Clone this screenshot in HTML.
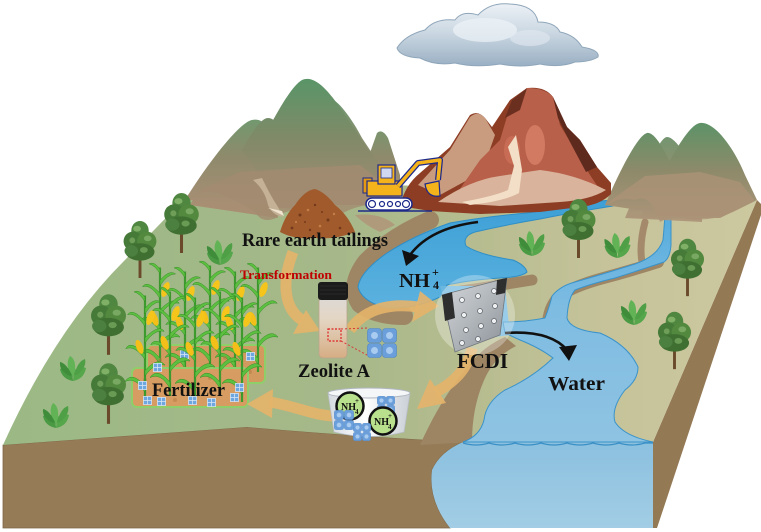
<!DOCTYPE html>
<html><head><meta charset="utf-8"><style>
html,body{margin:0;padding:0;background:#fff;}
svg{display:block;}
text{font-family:"Liberation Serif",serif;font-weight:bold;}
</style></head><body>
<svg width="761" height="532" viewBox="0 0 761 532" xmlns="http://www.w3.org/2000/svg">
<defs>
<linearGradient id="land" gradientUnits="userSpaceOnUse" x1="0" y1="0" x2="760" y2="0">
<stop offset="0" stop-color="#9bb985"/><stop offset="0.45" stop-color="#a6b889"/><stop offset="0.62" stop-color="#b6bc8f"/><stop offset="0.8" stop-color="#c6c39a"/><stop offset="1" stop-color="#ccc89f"/></linearGradient>
<linearGradient id="mtn" gradientUnits="userSpaceOnUse" x1="0" y1="80" x2="0" y2="205">
<stop offset="0" stop-color="#5a9568"/><stop offset="0.45" stop-color="#7f8a68"/><stop offset="1" stop-color="#a58c72"/></linearGradient>
<linearGradient id="mtn2" gradientUnits="userSpaceOnUse" x1="0" y1="110" x2="0" y2="205">
<stop offset="0" stop-color="#6a9c70"/><stop offset="0.5" stop-color="#8f8a6c"/><stop offset="1" stop-color="#a88f74"/></linearGradient>
<linearGradient id="rmtn" gradientUnits="userSpaceOnUse" x1="0" y1="120" x2="0" y2="222">
<stop offset="0" stop-color="#5b9367"/><stop offset="0.5" stop-color="#8d8a6a"/><stop offset="1" stop-color="#ae957a"/></linearGradient>
<linearGradient id="pool" gradientUnits="userSpaceOnUse" x1="0" y1="200" x2="0" y2="310">
<stop offset="0" stop-color="#3d9fd6"/><stop offset="1" stop-color="#5cb2df"/></linearGradient>
<linearGradient id="river" gradientUnits="userSpaceOnUse" x1="0" y1="216" x2="0" y2="442">
<stop offset="0" stop-color="#55acdd"/><stop offset="0.4" stop-color="#7ebce2"/><stop offset="1" stop-color="#8fc3e2"/></linearGradient>
<linearGradient id="wfront" gradientUnits="userSpaceOnUse" x1="0" y1="442" x2="0" y2="528">
<stop offset="0" stop-color="#8bc0df"/><stop offset="1" stop-color="#a2cde5"/></linearGradient>
<linearGradient id="cloud" gradientUnits="userSpaceOnUse" x1="0" y1="2" x2="0" y2="68">
<stop offset="0" stop-color="#eef3f7"/><stop offset="0.5" stop-color="#c8d5e0"/><stop offset="1" stop-color="#97adc1"/></linearGradient>
<linearGradient id="vial" x1="0" y1="0" x2="0" y2="1">
<stop offset="0" stop-color="#dcd9d6"/><stop offset="0.35" stop-color="#e4d6c4"/><stop offset="1" stop-color="#d6ad84"/></linearGradient>
<linearGradient id="fcdi" x1="0" y1="0" x2="1" y2="1">
<stop offset="0" stop-color="#d5d8dc"/><stop offset="0.5" stop-color="#b2b7bc"/><stop offset="1" stop-color="#8a9096"/></linearGradient>
<linearGradient id="bucket" x1="0" y1="0" x2="1" y2="0">
<stop offset="0" stop-color="#d4d9df"/><stop offset="0.45" stop-color="#ffffff"/><stop offset="1" stop-color="#c9cfd6"/></linearGradient>
<symbol id="tree" viewBox="0 0 36 60">
<rect x="16.5" y="28" width="3" height="32" fill="#6b4a2b"/>
<ellipse cx="18" cy="11" rx="9" ry="10" fill="#4f8640"/>
<ellipse cx="11" cy="22" rx="10" ry="10" fill="#457a38"/>
<ellipse cx="25" cy="22" rx="10" ry="10" fill="#52893f"/>
<ellipse cx="18" cy="33" rx="15" ry="9" fill="#3f7032"/>
<ellipse cx="9" cy="32" rx="7" ry="6" fill="#4c8040"/>
<ellipse cx="15" cy="9" rx="4" ry="3" fill="#7fb066"/>
<ellipse cx="26" cy="19" rx="4" ry="3" fill="#78a862"/>
<ellipse cx="10" cy="21" rx="3" ry="3" fill="#6e9e58"/>
<ellipse cx="22" cy="31" rx="4" ry="3" fill="#6a9b55"/>
</symbol>
<symbol id="plant" viewBox="0 0 30 30">
<path d="M15,28 Q4,26 2,16 Q8,12 14,18 Z" fill="#4a9a44"/>
<path d="M15,28 Q26,26 28,15 Q21,12 16,18 Z" fill="#56a64c"/>
<path d="M15,24 Q6,12 12,3 Q18,6 17,18 Z" fill="#62b356"/>
<path d="M16,22 Q20,8 27,6 Q29,14 19,22 Z" fill="#4e9f45"/>
<path d="M14,22 Q8,10 2,9 Q1,18 12,23 Z" fill="#3f8c3b"/>
</symbol>
<symbol id="corn" viewBox="0 0 40 120">
<path d="M20,120 L20,6" stroke="#3c9a2e" stroke-width="2.4" fill="none"/>
<g fill="#5cbf3f" stroke="#2f8a24" stroke-width="0.5">
<path d="M20,105 Q6,88 -2,100 Q10,94 20,112 Z"/>
<path d="M20,88 Q34,72 42,82 Q30,79 20,94 Z"/>
<path d="M20,70 Q4,54 -1,64 Q9,60 20,76 Z"/>
<path d="M20,52 Q35,37 41,45 Q30,43 20,58 Z"/>
<path d="M20,34 Q6,19 1,27 Q10,24 20,40 Z"/>
<path d="M20,20 Q30,8 37,13 Q28,13 20,26 Z"/>
<path d="M20,8 Q14,-1 8,2 Q15,4 20,13 Z"/>
</g>
<ellipse cx="26" cy="30" rx="3.8" ry="8.5" fill="#f6c51c" transform="rotate(20 26 30)"/>
<ellipse cx="14" cy="62" rx="3.6" ry="8" fill="#f3bf18" transform="rotate(-20 14 62)"/>
</symbol>
<symbol id="bsq" viewBox="0 0 10 10">
<rect x="0.5" y="0.5" width="9" height="9" fill="#6ea6e0" stroke="#dbe9f7" stroke-width="0.8"/>
<path d="M5,0.5 V9.5 M0.5,5 H9.5" stroke="#dbe9f7" stroke-width="0.8"/>
</symbol>
<symbol id="zeo" viewBox="0 0 30 30">
<g fill="#6b9fdb" stroke="#4f86c6" stroke-width="0.6">
<rect x="0.5" y="0.5" width="14" height="14" rx="3"/><rect x="15.5" y="0.5" width="14" height="14" rx="3"/>
<rect x="0.5" y="15.5" width="14" height="14" rx="3"/><rect x="15.5" y="15.5" width="14" height="14" rx="3"/>
</g>
<g fill="#a9cbef"><circle cx="7.5" cy="7.5" r="3.5"/><circle cx="22.5" cy="7.5" r="3.5"/><circle cx="7.5" cy="22.5" r="3.5"/><circle cx="22.5" cy="22.5" r="3.5"/></g>
</symbol>
</defs>

<rect width="761" height="532" fill="#fff"/>

<!-- front brown face -->
<path d="M3,445 L247,427 Q350,436 463,442 Q440,452 432,470 Q428,500 450,528 L3,528 Z" fill="#957b56" stroke="#7d6646" stroke-width="0.8"/>
<!-- right face -->
<path d="M653,442 L757,200 L761,204 L761,215 L657,528 L653,528 Z" fill="#947955"/>
<!-- water front -->
<path d="M463,442 Q440,452 432,470 Q428,500 450,528 L653,528 L653,442 Z" fill="url(#wfront)"/>

<!-- land top -->
<path d="M3,445 Q55,330 123,262 L190,193 L395,185 L600,195 L757,200 L653,442 L463,442 Q350,436 247,427 Z" fill="url(#land)"/>

<!-- brown banks -->
<g fill="none" stroke="#9e8665" stroke-linecap="round" stroke-linejoin="round">
<path d="M430,220 Q392,236 366,262 Q348,286 360,304 Q376,316 404,316" stroke-width="18"/>
<path d="M448,293 Q482,288 532,280" stroke-width="11"/>
<path d="M658,262 Q630,271 600,279 Q575,286 561,295 Q550,304 548,322" stroke-width="12"/>
<path d="M645,222 Q639,245 642,262" stroke-width="7" stroke="#a48a6b"/>
</g>
<path d="M420,445 Q440,400 468,366 Q484,346 505,337 L516,346 Q496,356 486,376 Q472,405 472,442 Z" fill="#9d8463"/>
<path d="M355,215 Q380,212 395,225 L380,232 Q365,225 355,215 Z" fill="#b09a7c"/>

<!-- upper river + pool -->
<path d="M613,200 L600,201 Q560,208 527,213 Q483,217 450,223 Q415,235 387,253 Q360,272 358,287 Q362,302 387,308 Q415,309 440,297 L447,285 Q470,280 500,278 Q522,277 527,272 Q525,265 513,260 Q480,255 466,246 Q462,236 475,232 Q505,225 540,219 Q575,212 613,206 Z" fill="url(#pool)" stroke="#2f8ec6" stroke-width="1"/>
<path d="M440,286 L505,286 L510,335 L455,342 Z" fill="#6cb7e0"/>
<!-- main river -->
<path d="M665,216 L671,216 L671,245 Q670,258 664,262 Q640,270 615,278 Q590,284 575,290 Q568,298 567,318 Q570,330 600,333 Q628,345 638,367 Q638,380 625,390 Q611,408 615,422 Q624,436 653,442 L463,442 Q480,436 484,420 Q486,402 505,390 Q532,378 553,358 Q540,348 520,340 L505,333 L503,322 Q525,322 545,318 Q550,305 552,296 Q560,286 575,282 Q600,275 635,264 Q658,256 663,240 Z" fill="url(#river)" stroke="#3a93ca" stroke-width="1"/>
<path d="M463,443 Q476,447 489,443 Q502,447 515,443 Q528,447 541,443 Q554,447 567,443 Q580,447 593,443 Q606,447 619,443 Q632,447 645,443 L653,443" fill="none" stroke="#3a90c6" stroke-width="1.2"/>

<!-- left mountains -->
<path d="M355,195 L377,133 Q382,128 388,138 L400,175 L400,200 Z" fill="url(#mtn2)"/>
<path d="M230,205 C258,150 285,90 302,80 C315,74 330,92 345,115 L372,155 L388,200 Z" fill="url(#mtn)"/>
<path d="M280,205 C300,150 315,100 323,97 C333,93 350,115 362,138 L380,165 L390,205 Z" fill="url(#mtn)" opacity="0.95"/>
<path d="M185,200 C210,160 240,122 252,120 C262,118 268,125 278,140 L305,205 Z" fill="url(#mtn2)"/>
<path d="M215,205 C240,150 258,118 268,118 C280,118 300,150 322,195 L322,210 Z" fill="url(#mtn)"/>
<path d="M190,205 C205,180 224,148 233,147 C245,147 262,175 278,218 Z" fill="url(#mtn2)"/>
<path d="M190,199 Q205,186 225,196 Q245,205 255,212 Q262,224 276,218 Q290,206 305,214 Q325,222 345,212 Q365,202 392,205 L392,190 L360,165 L300,168 L240,172 L205,188 Z" fill="#a38b71" opacity="0.8"/>
<path d="M253,180 Q265,190 268,205 Q272,215 283,217 L278,207 Q270,195 262,178 Z" fill="#c4b196"/>
<path d="M268,208 Q276,212 284,216 L282,211 Z" fill="#f0e4d0"/>

<!-- right mountains -->
<path d="M605,205 C620,170 638,135 647,133 C656,131 672,160 692,218 Z" fill="url(#rmtn)"/>
<path d="M640,218 C660,180 685,125 700,123 C715,121 735,150 745,175 L757,200 L720,218 Z" fill="url(#rmtn)"/>
<path d="M625,218 C645,170 660,137 667,137 C676,137 690,160 702,192 L702,222 Z" fill="url(#rmtn)" opacity="0.95"/>
<path d="M599,212 Q615,195 635,200 Q650,192 660,222 Q672,215 687,219 Q710,222 733,212 Q745,206 755,201 L740,182 L700,172 L645,176 L614,198 Z" fill="#ab9277" opacity="0.8"/>

<!-- red mountain -->
<path d="M400,206 Q405,185 420,173 L450,147 L470,115 Q478,110 485,118 L492,127 L510,100 L527,88 Q545,86 553,97 L567,127 L580,140 L597,167 L611,183 L611,194 Q600,205 580,207 L540,212 L480,214 L430,211 Z" fill="#8c3d24"/>
<path d="M418,185 L450,150 L470,117 Q478,110 485,118 L495,135 L482,172 L440,195 Z" fill="#c99c80"/>
<path d="M455,196 L480,160 L500,140 L512,100 L527,88 Q545,88 553,97 L560,125 L575,150 L590,175 L600,190 L560,200 L500,205 Z" fill="#b8604a"/>
<path d="M553,97 L567,127 L580,140 L597,167 L586,172 L570,142 L558,118 Z" fill="#5e2a1e"/>
<path d="M512,100 L527,88 L520,110 L505,118 Z" fill="#6b2f20"/>
<ellipse cx="535" cy="145" rx="10" ry="20" fill="#d27a62"/>
<ellipse cx="512" cy="150" rx="8" ry="14" fill="#c86c55"/>
<path d="M438,202 Q470,180 500,176 L540,170 Q575,174 606,190 Q590,200 560,202 L500,206 Z" fill="#d9b39b"/>
<path d="M462,202 Q495,196 508,190 L514,166 L508,147 L516,135 L522,170 L519,193 Q505,201 470,205 Z" fill="#f3dfc7"/>

<!-- cloud -->
<path d="M397,48 Q405,35 425,30 Q435,18 455,20 Q462,10 478,15 Q490,2 510,4 Q535,5 538,22 Q555,22 560,32 Q575,35 582,47 Q600,50 598,57 Q590,62 575,62 Q560,68 540,64 Q520,68 500,64 Q475,68 455,63 Q435,66 420,58 Q400,57 397,48 Z" fill="url(#cloud)" stroke="#8fa6ba" stroke-width="1"/>
<ellipse cx="485" cy="30" rx="32" ry="12" fill="#eef3f8" opacity="0.7"/>
<ellipse cx="530" cy="38" rx="20" ry="8" fill="#e3eaf1" opacity="0.6"/>

<!-- trees & plants -->
<use href="#tree" x="163" y="192" width="37" height="61"/>
<use href="#tree" x="122" y="220" width="36" height="58"/>
<use href="#tree" x="90" y="293" width="37" height="62"/>
<use href="#tree" x="90" y="362" width="37" height="62"/>
<use href="#tree" x="560" y="198" width="37" height="60"/>
<use href="#tree" x="670" y="237" width="35" height="60"/>
<use href="#tree" x="657" y="310" width="35" height="60"/>
<use href="#plant" x="205" y="237" width="30" height="30"/>
<use href="#plant" x="58" y="353" width="30" height="30"/>
<use href="#plant" x="40" y="400" width="32" height="30"/>
<use href="#plant" x="517" y="228" width="30" height="30"/>
<use href="#plant" x="602" y="230" width="31" height="30"/>
<use href="#plant" x="618" y="297" width="32" height="30"/>

<!-- tailings pile -->
<path d="M280,232 Q285,215 295,205 Q305,190 315,189 Q325,192 335,205 Q348,215 355,232 Q335,240 315,238 Q295,240 280,232 Z" fill="#a05a2c"/>
<g fill="#74391a">
<circle cx="300" cy="215" r="1.5"/><circle cx="315" cy="205" r="1.2"/><circle cx="328" cy="220" r="1.5"/><circle cx="340" cy="228" r="1.3"/><circle cx="292" cy="228" r="1.4"/><circle cx="310" cy="230" r="1.2"/><circle cx="322" cy="212" r="1"/><circle cx="305" cy="222" r="1"/></g>
<g fill="#c57e48"><circle cx="308" cy="210" r="1.3"/><circle cx="320" cy="226" r="1.3"/><circle cx="334" cy="214" r="1.2"/><circle cx="296" cy="222" r="1.1"/></g>

<!-- excavator -->
<line x1="358" y1="211" x2="432" y2="211" stroke="#1e2a8a" stroke-width="1.5"/>
<rect x="366" y="198" width="46" height="12" rx="6" fill="#fff" stroke="#1e2a8a" stroke-width="1.5"/>
<g fill="#fff" stroke="#1e2a8a" stroke-width="1.2"><circle cx="372" cy="204" r="3.5"/><circle cx="382" cy="204" r="2.5"/><circle cx="390" cy="204" r="2.5"/><circle cx="398" cy="204" r="2.5"/><circle cx="406" cy="204" r="3.5"/></g>
<rect x="363" y="178" width="9" height="15" fill="#e39a12" stroke="#1e2a8a" stroke-width="1"/>
<rect x="367" y="181" width="35" height="15" fill="#f5b31b" stroke="#1e2a8a" stroke-width="1.2"/>
<rect x="378" y="165" width="17" height="19" fill="#f5b31b" stroke="#1e2a8a" stroke-width="1.2"/>
<rect x="381" y="168" width="11" height="10" fill="#cfd8ee" stroke="#1e2a8a" stroke-width="0.8"/>
<path d="M398,186 L418,163 L440,160 L438,180" fill="none" stroke="#1e2a8a" stroke-width="6" stroke-linejoin="round"/>
<path d="M398,186 L418,163 L440,160 L438,180" fill="none" stroke="#f5b31b" stroke-width="3.5" stroke-linejoin="round"/>
<path d="M425,184 Q427,198 440,196 L439,181 Z" fill="#f5b31b" stroke="#1e2a8a" stroke-width="1.2"/>

<!-- corn field -->
<rect x="147" y="345" width="118" height="38" rx="5" fill="#d39a5f" stroke="#8fcf6a" stroke-width="2"/>
<use href="#corn" x="140" y="262" width="40" height="110"/>
<use href="#corn" x="165" y="266" width="40" height="110"/>
<use href="#corn" x="190" y="260" width="40" height="110"/>
<use href="#corn" x="215" y="266" width="40" height="110"/>
<use href="#corn" x="238" y="262" width="40" height="110"/>
<g fill="#b57a45" opacity="0.5"><circle cx="160" cy="360" r="2"/><circle cx="190" cy="372" r="2"/><circle cx="225" cy="358" r="2"/><circle cx="250" cy="372" r="2"/></g>
<use href="#bsq" x="180" y="350" width="9" height="9"/><use href="#bsq" x="246" y="352" width="9" height="9"/>
<rect x="132" y="368" width="116" height="39" rx="5" fill="#d69c61" stroke="#8fcf6a" stroke-width="2"/>
<g fill="#b57a45" opacity="0.5"><circle cx="145" cy="380" r="2"/><circle cx="175" cy="400" r="2"/><circle cx="210" cy="378" r="2"/><circle cx="238" cy="398" r="2"/></g>
<use href="#corn" x="125" y="290" width="40" height="110"/>
<use href="#corn" x="150" y="286" width="40" height="110"/>
<use href="#corn" x="175" y="292" width="40" height="110"/>
<use href="#corn" x="200" y="286" width="40" height="110"/>
<use href="#corn" x="222" y="292" width="40" height="110"/>
<use href="#bsq" x="138" y="381" width="9" height="9"/><use href="#bsq" x="143" y="396" width="9" height="9"/>
<use href="#bsq" x="157" y="397" width="9" height="9"/><use href="#bsq" x="188" y="396" width="9" height="9"/>
<use href="#bsq" x="207" y="398" width="9" height="9"/><use href="#bsq" x="235" y="383" width="9" height="9"/>
<use href="#bsq" x="230" y="393" width="9" height="9"/><use href="#bsq" x="153" y="363" width="9" height="9"/>

<!-- orange arrows -->
<g fill="none" stroke="#e6b46a" stroke-width="11" opacity="0.9">
<path d="M293,252 C282,280 283,308 302,320"/>
<path d="M350,330 C362,312 385,302 418,307"/>
<path d="M472,348 C468,368 455,382 436,392"/>
<path d="M335,416 C315,416 295,406 270,402"/>
</g>
<g fill="#e6b46a" opacity="0.9">
<polygon points="306,310 320,331 293,334"/>
<polygon points="420,291 439,306 412,322"/>
<polygon points="430,379 417,409 446,403"/>
<polygon points="273,389 247,404 272,418"/>
</g>

<!-- black arrows -->
<path d="M478,222 Q430,228 410,255" fill="none" stroke="#111" stroke-width="2.6"/>
<polygon points="402,250 406,266 419,256" fill="#111"/>
<path d="M505,333 Q550,330 567,350" fill="none" stroke="#111" stroke-width="2.6"/>
<polygon points="559,347 569,361 577,345" fill="#111"/>

<!-- vial -->
<rect x="319" y="297" width="28" height="61" rx="4" fill="url(#vial)" stroke="#b9a48a" stroke-width="0.8"/>
<rect x="318" y="282" width="30" height="18" rx="3" fill="#1b1b1b"/>
<path d="M320,286 H346 M320,290 H346 M320,294 H346" stroke="#3a3a3a" stroke-width="0.6"/>
<rect x="328" y="329" width="13" height="12" fill="none" stroke="#e02020" stroke-width="1.2" stroke-dasharray="2,1.5"/>
<path d="M341,329 L367,328 M341,341 L367,355" stroke="#d83a3a" stroke-width="1" stroke-dasharray="2,2"/>
<use href="#zeo" x="367" y="328" width="30" height="30"/>

<!-- FCDI -->
<ellipse cx="475" cy="315" rx="40" ry="40" fill="#ffffff" opacity="0.3"/>
<polygon points="442,295 507,278 500,335 455,352" fill="url(#fcdi)" stroke="#6f757b" stroke-width="0.8"/>
<polygon points="442,295 452,292 455,318 445,321" fill="#2e2e2e"/>
<polygon points="497,280 507,278 505,293 496,295" fill="#2e2e2e"/>
<g fill="#eef0f2" stroke="#5d6268" stroke-width="0.7">
<circle cx="462" cy="300" r="2.5"/><circle cx="478" cy="296" r="2.5"/><circle cx="494" cy="291" r="2.5"/>
<circle cx="464" cy="315" r="2.5"/><circle cx="480" cy="311" r="2.5"/><circle cx="495" cy="306" r="2.5"/>
<circle cx="466" cy="330" r="2.5"/><circle cx="481" cy="326" r="2.5"/><circle cx="494" cy="321" r="2.5"/>
<circle cx="462" cy="343" r="2.5"/><circle cx="478" cy="339" r="2.5"/>
</g>

<!-- bucket -->
<path d="M328,393 L334,432 Q369,441 404,432 L410,393 Z" fill="url(#bucket)" stroke="#b8bec6" stroke-width="0.8"/>
<ellipse cx="369" cy="393" rx="41" ry="5" fill="#f4f6f8" stroke="#b0b7c0" stroke-width="1"/>
<use href="#zeo" x="377" y="396" width="18" height="18"/>
<circle cx="350" cy="406" r="13.5" fill="#b9e08c" stroke="#111" stroke-width="2.5"/>
<circle cx="383" cy="421" r="13.5" fill="#b9e08c" stroke="#111" stroke-width="2.5"/>
<use href="#zeo" x="333" y="410" width="22" height="20"/>
<use href="#zeo" x="352" y="423" width="20" height="18"/>
<text x="341" y="410" font-size="10" fill="#111">NH</text>
<text x="355" y="414" font-size="7" fill="#111">4</text>
<text x="355" y="403" font-size="7" fill="#111">+</text>
<text x="374" y="425" font-size="10" fill="#111">NH</text>
<text x="388" y="429" font-size="7" fill="#111">4</text>
<text x="388" y="418" font-size="7" fill="#111">+</text>

<!-- labels -->
<text x="242" y="246" font-size="19" fill="#111" textLength="146" lengthAdjust="spacingAndGlyphs">Rare earth tailings</text>
<text x="240" y="279" font-size="13" fill="#c00000" textLength="92" lengthAdjust="spacingAndGlyphs">Transformation</text>
<text x="399" y="287" font-size="20" fill="#111" textLength="31" lengthAdjust="spacingAndGlyphs">NH</text>
<text x="432" y="276" font-size="12" fill="#111">+</text>
<text x="433" y="289" font-size="12" fill="#111">4</text>
<text x="298" y="377" font-size="19" fill="#111" textLength="72" lengthAdjust="spacingAndGlyphs">Zeolite A</text>
<text x="457" y="368" font-size="21" fill="#111" textLength="51" lengthAdjust="spacingAndGlyphs">FCDI</text>
<text x="548" y="390" font-size="20" fill="#111" textLength="57" lengthAdjust="spacingAndGlyphs">Water</text>
<text x="152" y="396" font-size="19" fill="#111" textLength="73" lengthAdjust="spacingAndGlyphs">Fertilizer</text>
</svg>
</body></html>
